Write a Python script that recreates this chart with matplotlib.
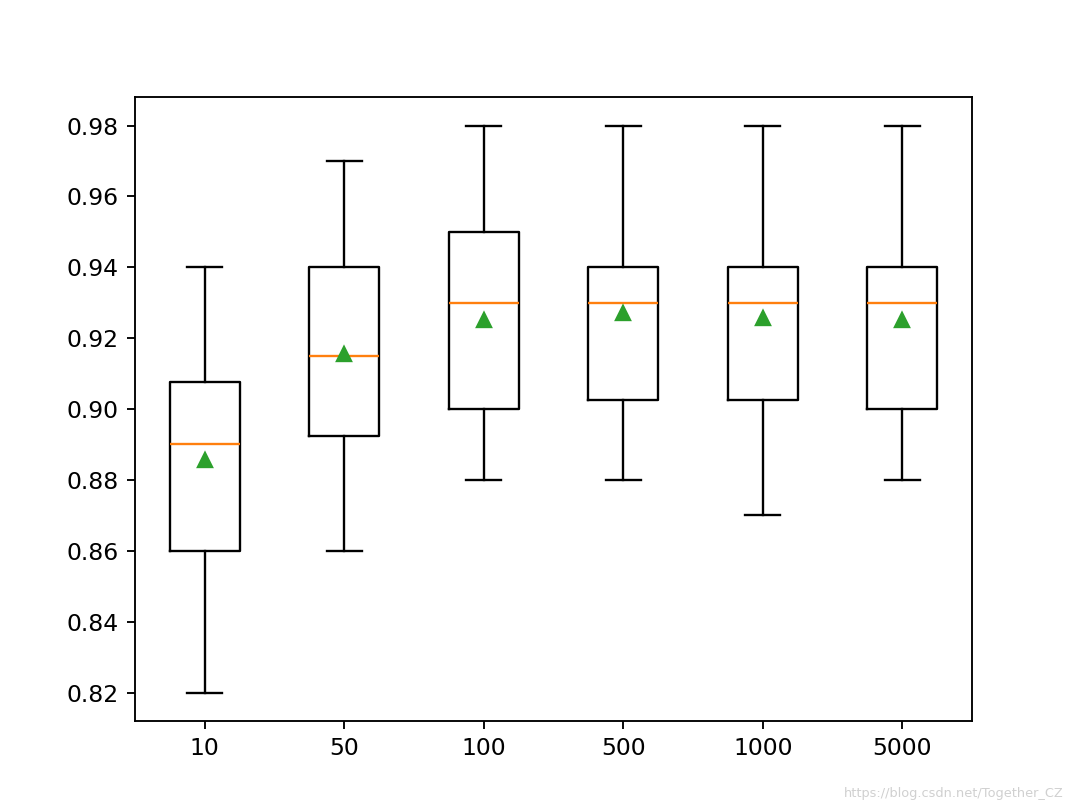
import matplotlib
matplotlib.use("Agg")
import matplotlib.pyplot as plt

labels = ["10", "50", "100", "500", "1000", "5000"]
whislo = [0.82, 0.86, 0.88, 0.88, 0.87, 0.88]
q1 = [0.86, 0.8925, 0.90, 0.9025, 0.9025, 0.90]
med = [0.89, 0.915, 0.93, 0.93, 0.93, 0.93]
q3 = [0.9075, 0.94, 0.95, 0.94, 0.94, 0.94]
whishi = [0.94, 0.97, 0.98, 0.98, 0.98, 0.98]
means = [0.8855, 0.9155, 0.925, 0.927, 0.9257, 0.925]


def main():
    stats = []
    for i in range(len(labels)):
        stats.append({
            "label": labels[i],
            "whislo": whislo[i],
            "q1": q1[i],
            "med": med[i],
            "q3": q3[i],
            "whishi": whishi[i],
            "mean": means[i],
            "fliers": [],
        })

    fig, ax = plt.subplots(figsize=(6.4, 4.8))
    ax.bxp(stats, showmeans=True)

    fig.text(0.985, 0.012, "https://blog.csdn.net/Together_CZ", ha="right", va="bottom",
             fontsize=5.5, color="#d0d0d0")

    fig.savefig("out.png", dpi=168.75)


if __name__ == "__main__":
    main()
